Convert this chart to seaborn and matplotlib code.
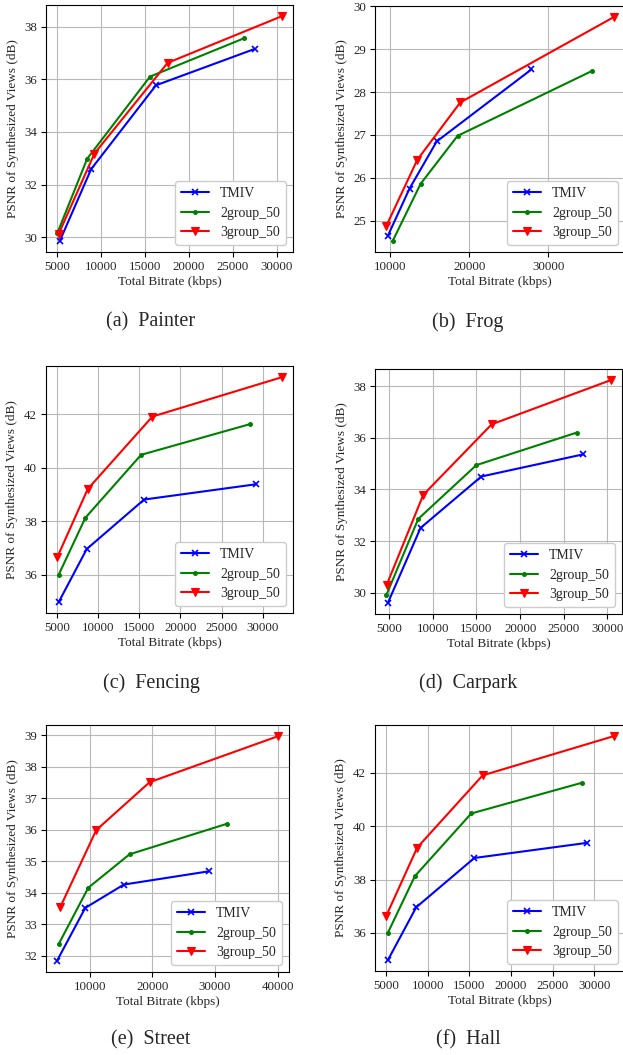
import numpy as np
import pandas as pd
import matplotlib
matplotlib.use("Agg")
import matplotlib.pyplot as plt
import seaborn as sns

# Values (kbps, dB)
painter_tmiv_x = [5340, 8900, 16270, 27500]
painter_tmiv_y = [29.87, 32.59, 35.77, 37.15]
painter_g2_x = [5040, 8440, 15590, 26330]
painter_g2_y = [30.15, 32.98, 36.10, 37.56]
painter_g3_x = [5190, 9270, 17590, 30570]
painter_g3_y = [30.12, 33.18, 36.62, 38.39]

frog_tmiv_x = [9700, 12460, 15900, 27880]
frog_tmiv_y = [24.64, 25.75, 26.85, 28.53]
frog_g2_x = [10340, 13860, 18540, 35600]
frog_g2_y = [24.53, 25.86, 26.98, 28.50]
frog_g3_x = [9530, 13440, 18880, 38280]
frog_g3_y = [24.88, 26.42, 27.76, 29.75]

fencing_tmiv_x = [5240, 8620, 15590, 29150]
fencing_tmiv_y = [34.99, 36.96, 38.81, 39.38]
fencing_g2_x = [5200, 8460, 15220, 28470]
fencing_g2_y = [35.99, 38.13, 40.48, 41.63]
fencing_g3_x = [5040, 8740, 16590, 32300]
fencing_g3_y = [36.65, 39.20, 41.91, 43.38]

carpark_tmiv_x = [4850, 8590, 15550, 27250]
carpark_tmiv_y = [29.61, 32.51, 34.50, 35.36]
carpark_g2_x = [4660, 8330, 14980, 26480]
carpark_g2_y = [29.90, 32.86, 34.94, 36.20]
carpark_g3_x = [4730, 8900, 16740, 30380]
carpark_g3_y = [30.32, 33.79, 36.52, 38.23]

street_tmiv_x = [4800, 9310, 15470, 29010]
street_tmiv_y = [31.84, 33.52, 34.26, 34.68]
street_g2_x = [5060, 9790, 16370, 31930]
street_g2_y = [32.37, 34.16, 35.22, 36.19]
street_g3_x = [5330, 11060, 19580, 40070]
street_g3_y = [33.55, 35.99, 37.51, 38.97]

# Hall panel shows the same curves as Fencing
hall_tmiv_x, hall_tmiv_y = fencing_tmiv_x, fencing_tmiv_y
hall_g2_x, hall_g2_y = fencing_g2_x, fencing_g2_y
hall_g3_x, hall_g3_y = fencing_g3_x, fencing_g3_y

series_names = ["TMIV", "2group_50", "3group_50"]
series_colors = ["blue", "green", "red"]
series_markers = ["x", ".", "v"]

panels = [
    ("(a)  Painter", [(painter_tmiv_x, painter_tmiv_y), (painter_g2_x, painter_g2_y), (painter_g3_x, painter_g3_y)], [5000, 10000, 15000, 20000, 25000, 30000], [30, 32, 34, 36, 38]),
    ("(b)  Frog", [(frog_tmiv_x, frog_tmiv_y), (frog_g2_x, frog_g2_y), (frog_g3_x, frog_g3_y)], [10000, 20000, 30000], [25, 26, 27, 28, 29, 30]),
    ("(c)  Fencing", [(fencing_tmiv_x, fencing_tmiv_y), (fencing_g2_x, fencing_g2_y), (fencing_g3_x, fencing_g3_y)], [5000, 10000, 15000, 20000, 25000, 30000], [36, 38, 40, 42]),
    ("(d)  Carpark", [(carpark_tmiv_x, carpark_tmiv_y), (carpark_g2_x, carpark_g2_y), (carpark_g3_x, carpark_g3_y)], [5000, 10000, 15000, 20000, 25000, 30000], [30, 32, 34, 36, 38]),
    ("(e)  Street", [(street_tmiv_x, street_tmiv_y), (street_g2_x, street_g2_y), (street_g3_x, street_g3_y)], [10000, 20000, 30000, 40000], [32, 33, 34, 35, 36, 37, 38, 39]),
    ("(f)  Hall", [(hall_tmiv_x, hall_tmiv_y), (hall_g2_x, hall_g2_y), (hall_g3_x, hall_g3_y)], [5000, 10000, 15000, 20000, 25000, 30000], [36, 38, 40, 42]),
]

sns.set_style("whitegrid", {"axes.edgecolor": "black", "grid.color": "#b0b0b0",
                            "xtick.bottom": True, "ytick.left": True})
plt.rcParams['font.family'] = ['Liberation Serif', 'DejaVu Serif']
plt.rcParams['xtick.major.size'] = 3.5
plt.rcParams['ytick.major.size'] = 3.5
plt.rcParams['axes.linewidth'] = 0.8

W, H = 623, 1055
fig = plt.figure(figsize=(W / 100, H / 100), dpi=100)

# axes boxes in pixels: left, top, right, bottom
boxes = [
    (46, 5, 293, 252),
    (375, 6, 625, 252),
    (46, 366, 293, 613),
    (375, 369, 622, 614),
    (46, 725, 289, 972),
    (375, 725, 625, 971),
]
caption_pos = [(151, 322), (468, 322), (151, 683), (468, 683), (151, 1040), (468, 1040)]
marker_sizes = {"x": 5, ".": 5.5, "v": 5.5}

for (title, data, xt, yt), (l, t, r, b), (cx, cy) in zip(panels, boxes, caption_pos):
    ax = fig.add_axes([l / W, (H - b) / H, (r - l) / W, (b - t) / H])
    for (xs, ys), name, col, mk in zip(data, series_names, series_colors, series_markers):
        df = pd.DataFrame({"x": xs, "y": ys})
        sns.lineplot(data=df, x="x", y="y", ax=ax, color=col, marker=mk, label=name,
                     sort=False, linewidth=1.5, markersize=marker_sizes[mk],
                     markeredgecolor=col, markeredgewidth=1.2 if mk == "x" else 0.8)
    ax.set_xticks(xt)
    ax.set_yticks(yt)
    ax.margins(x=0.05, y=0.05)
    ax.tick_params(labelsize=9.3, length=3.5, width=0.8, color="black", pad=3)
    ax.set_xlabel("Total Bitrate (kbps)", fontsize=9.5, labelpad=2)
    ax.set_ylabel("PSNR of Synthesized Views (dB)", fontsize=9.5, labelpad=4)
    ax.grid(True, color="#b8b8b8", linewidth=0.8)
    ax.legend(loc="lower right", fontsize=10, frameon=True, fancybox=True,
              edgecolor="#cccccc", framealpha=1.0, borderpad=0.45, handlelength=2.0,
              labelspacing=0.45)
    fig.text(cx / W, 1 - cy / H, title, ha="center", va="center", fontsize=14.5)

fig.savefig("out.png", dpi=100)
